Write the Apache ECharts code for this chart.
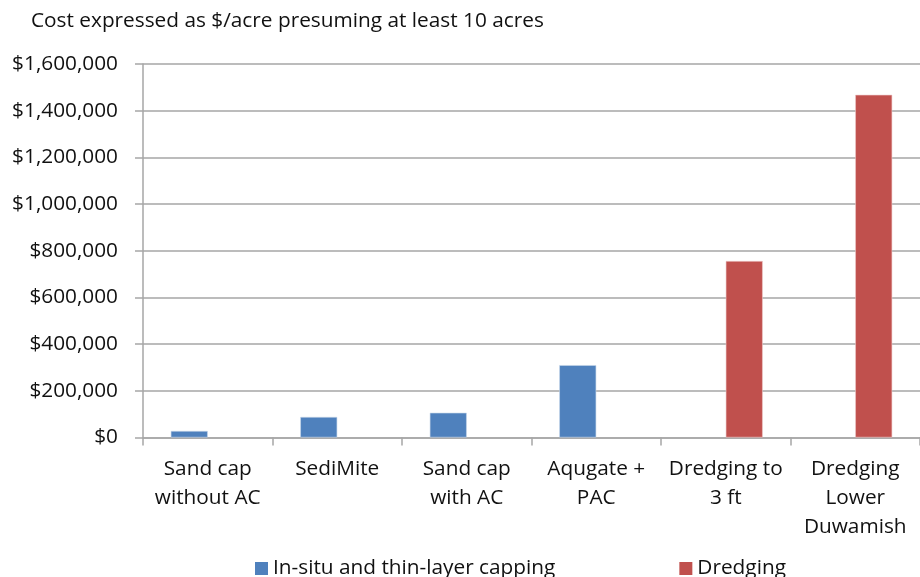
<!DOCTYPE html>
<html><head><meta charset="utf-8">
<script src="https://cdn.jsdelivr.net/npm/echarts@6/dist/echarts.min.js"></script>
<style>html,body{margin:0;padding:0;background:#fff}#c{width:920px;height:577px}</style>
</head><body><div id="c"></div>
<script>
var categories = ["Sand cap\nwithout AC", "SediMite", "Sand cap\nwith AC", "Aqugate +\nPAC", "Dredging to\n3 ft", "Dredging\nLower\nDuwamish"];
var seriesNames = ["In-situ and thin-layer capping", "Dredging"];
var insituValues = [28000, 88000, 106000, 310000, null, null];
var dredgingValues = [null, null, null, null, 756000, 1468000];
var yTicks = [0, 200000, 400000, 600000, 800000, 1000000, 1200000, 1400000, 1600000];

var font = "'Open Sans', sans-serif";
var chart = echarts.init(document.getElementById('c'));
chart.setOption({
  animation: false,
  backgroundColor: '#fff',
  title: {
    text: 'Cost expressed as $/acre presuming at least 10 acres',
    left: 26, top: 6,
    textStyle: {fontFamily: font, fontSize: 20.8, fontWeight: 'normal', color: '#111'}
  },
  legend: {
    data: seriesNames,
    bottom: -7, left: 250,
    itemWidth: 13, itemHeight: 13, itemGap: 124, itemStyle: {borderWidth: 0},
    icon: 'rect',
    textStyle: {fontFamily: font, fontSize: 20.8, color: '#111'}
  },
  grid: {left: 143, top: 64, width: 790, height: 373.5, containLabel: false},
  xAxis: {
    type: 'category',
    data: categories,
    axisLine: {show: true, lineStyle: {color: '#a6a6a6', width: 1.5}},
    axisTick: {show: true, length: 8, lineStyle: {color: '#a6a6a6', width: 1.5}},
    axisLabel: {fontFamily: font, fontSize: 20.8, color: '#111', lineHeight: 29, margin: 17, interval: 0}
  },
  yAxis: {
    type: 'value',
    min: yTicks[0], max: yTicks[yTicks.length - 1], interval: 200000,
    axisLine: {show: true, lineStyle: {color: '#a6a6a6', width: 1.5}},
    axisTick: {show: true, length: 8, lineStyle: {color: '#a6a6a6', width: 1.5}},
    splitLine: {lineStyle: {color: '#a6a6a6', width: 1.5}},
    axisLabel: {
      fontFamily: font, fontSize: 20.8, color: '#111', margin: 25,
      formatter: function (v) { return '$' + v.toLocaleString('en-US'); }
    }
  },
  series: [
    {name: seriesNames[0], type: 'bar', data: insituValues, barGap: '0%', barCategoryGap: '42.9%',
     itemStyle: {color: '#4F81BD', borderColor: '#c8d6ea', borderWidth: 0.6}},
    {name: seriesNames[1], type: 'bar', data: dredgingValues, barGap: '0%', barCategoryGap: '42.9%',
     itemStyle: {color: '#C0504D', borderColor: '#ecc8c7', borderWidth: 0.6}}
  ]
});
</script></body></html>
